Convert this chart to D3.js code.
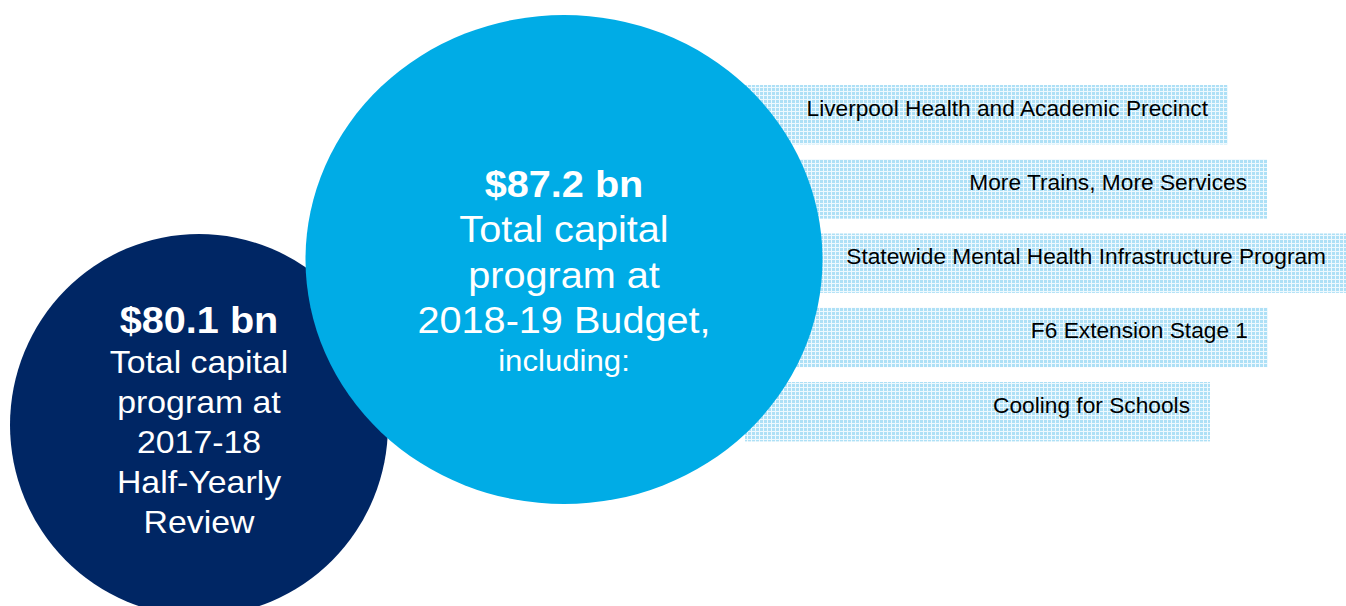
<!DOCTYPE html>
<html lang="en">
  <head>
    <meta charset="UTF-8" />
    <title>Total capital program</title>
    <script src="https://d3js.org/d3.v7.min.js"></script>
    <style>
      html, body { margin: 0; padding: 0; background: #fff; }
      svg { display: block; font-family: "Liberation Sans", Arial, sans-serif; }
    </style>
  </head>
  <body>
    <svg id="chart"></svg>
    <script>
      const WIDTH = 1346;
      const HEIGHT = 606;
      // the source graphic is slightly stretched sideways
      const STRETCH = 1.057;

      // data
      const totals = ["$80.1 bn", "$87.2 bn"];
      const totalLines = [
        ["Total capital", "program at", "2017-18", "Half-Yearly", "Review"],
        ["Total capital", "program at", "2018-19 Budget,"],
      ];
      const totalTail = ["", "including:"];
      const projects = [
        "Liverpool Health and Academic Precinct",
        "More Trains, More Services",
        "Statewide Mental Health Infrastructure Program",
        "F6 Extension Stage 1",
        "Cooling for Schools",
      ];

      // layout (not data)
      const circles = [
        { cx: 199, cy: 425, rx: 189, ry: 191, fill: "#002664", titleY: 333, titleSize: 37.5, lineSize: 32, lineGap: 40 },
        { cx: 564, cy: 259.5, rx: 258.5, ry: 244.5, fill: "#00ACE6", titleY: 197, titleSize: 37.5, lineSize: 37.5, lineGap: 45.5 },
      ];
      const barLeft = 745;
      const barRight = [1228, 1267, 1346, 1268, 1210];

      const svg = d3.select("#chart").attr("width", WIDTH).attr("height", HEIGHT);

      const defs = svg.append("defs");
      const pat = defs.append("pattern")
        .attr("id", "grid")
        .attr("patternUnits", "userSpaceOnUse")
        .attr("width", 4)
        .attr("height", 4);
      pat.append("rect").attr("width", 4).attr("height", 4).attr("fill", "#aee0f6");
      pat.append("rect").attr("x", 3).attr("width", 1).attr("height", 4).attr("fill", "#eef9fe");
      pat.append("rect").attr("y", 3).attr("width", 4).attr("height", 1).attr("fill", "#eef9fe");

      const y = d3.scaleBand()
        .domain(projects)
        .range([85, 441.4])
        .paddingInner(0.2)
        .paddingOuter(0);

      // project bars
      const bars = svg.append("g").classed("bars", true);
      bars.selectAll("rect")
        .data(projects)
        .enter()
        .append("rect")
        .attr("x", barLeft)
        .attr("y", (d) => y(d))
        .attr("width", (d, i) => barRight[i] - barLeft)
        .attr("height", y.bandwidth())
        .attr("fill", "url(#grid)");

      bars.selectAll("text")
        .data(projects)
        .enter()
        .append("text")
        .attr("transform", (d, i) =>
          `translate(${barRight[i] - 20}, ${y(d) + y.bandwidth() / 2 + 1}) scale(${STRETCH},1)`)
        .attr("text-anchor", "end")
        .style("font-size", "21.5px")
        .style("fill", "#000")
        .text((d) => d);

      // the two totals
      circles.forEach((c, i) => {
        const g = svg.append("g").classed("total", true);
        g.append("ellipse")
          .attr("cx", c.cx)
          .attr("cy", c.cy)
          .attr("rx", c.rx)
          .attr("ry", c.ry)
          .attr("fill", c.fill);

        g.append("text")
          .attr("transform", `translate(${c.cx}, ${c.titleY}) scale(${STRETCH},1)`)
          .attr("text-anchor", "middle")
          .style("font-size", c.titleSize + "px")
          .style("font-weight", "bold")
          .style("fill", "#fff")
          .text(totals[i]);

        const lines = totalLines[i];
        lines.forEach((line, j) => {
          g.append("text")
            .attr("transform", `translate(${c.cx}, ${c.titleY + 40 + j * c.lineGap + (i === 1 ? 5 : 0)}) scale(${STRETCH},1)`)
            .attr("text-anchor", "middle")
            .style("font-size", c.lineSize + "px")
            .style("fill", "#fff")
            .text(line);
        });

        if (totalTail[i]) {
          g.append("text")
            .attr("transform", `translate(${c.cx}, ${c.titleY + 174}) scale(${STRETCH},1)`)
            .attr("text-anchor", "middle")
            .style("font-size", "29.5px")
            .style("fill", "#fff")
            .text(totalTail[i]);
        }
      });
    </script>
  </body>
</html>
